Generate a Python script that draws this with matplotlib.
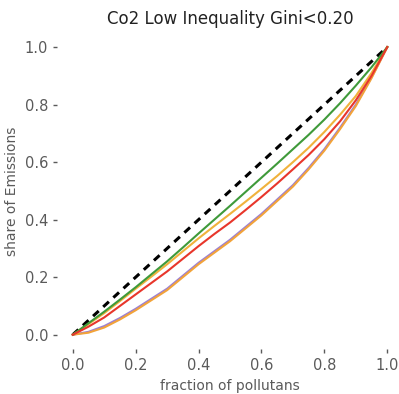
import numpy as np
import matplotlib
matplotlib.use("Agg")
import matplotlib.pyplot as plt

# fraction of pollutants (x) and cumulative share of emissions per curve
frac = [0.0, 0.05, 0.1, 0.15, 0.2, 0.25, 0.3, 0.35, 0.4, 0.45, 0.5,
        0.55, 0.6, 0.65, 0.7, 0.75, 0.8, 0.85, 0.9, 0.95, 1.0]
share_green = [0.0, 0.04, 0.08, 0.122, 0.165, 0.21, 0.255, 0.303, 0.352, 0.40, 0.448,
               0.497, 0.546, 0.595, 0.645, 0.695, 0.748, 0.805, 0.866, 0.93, 1.0]
share_yellow = [0.0, 0.037, 0.075, 0.117, 0.16, 0.202, 0.245, 0.29, 0.335, 0.378, 0.42,
                0.463, 0.507, 0.552, 0.60, 0.65, 0.705, 0.765, 0.83, 0.91, 1.0]
share_red = [0.0, 0.028, 0.06, 0.10, 0.14, 0.18, 0.22, 0.264, 0.308, 0.35, 0.39,
             0.434, 0.479, 0.526, 0.575, 0.625, 0.68, 0.742, 0.815, 0.90, 1.0]
share_purple = [0.0, 0.01, 0.03, 0.058, 0.09, 0.125, 0.16, 0.205, 0.25, 0.29, 0.33,
                0.375, 0.42, 0.47, 0.52, 0.58, 0.645, 0.72, 0.80, 0.895, 1.0]
share_orange = [0.0, 0.007, 0.025, 0.053, 0.085, 0.12, 0.155, 0.20, 0.245, 0.285, 0.325,
                0.37, 0.415, 0.465, 0.515, 0.575, 0.64, 0.715, 0.795, 0.892, 1.0]

fig = plt.figure(figsize=(3.99, 3.94), dpi=100)
ax = fig.add_axes([0.143, 0.114, 0.867, 0.803])

ax.plot([0, 1], [0, 1], color="black", ls="--", lw=2.2, dashes=(2.5, 2))
ax.plot(frac, share_purple, color="#9b7fd4", lw=1.5)
ax.plot(frac, share_orange, color="#f2a33a", lw=1.5)
ax.plot(frac, share_yellow, color="#f0b23c", lw=1.5)
ax.plot(frac, share_green, color="#3f9a3a", lw=1.5)
ax.plot(frac, share_red, color="#e8362b", lw=1.5)

for s in ax.spines.values():
    s.set_visible(False)
ax.set_xticks([0, 0.2, 0.4, 0.6, 0.8, 1.0])
ax.set_yticks([0, 0.2, 0.4, 0.6, 0.8, 1.0])
ax.tick_params(colors="#5a5a5a", labelsize=10.5, length=3, width=1)
ax.set_xlabel("fraction of pollutans", color="#5a5a5a", fontsize=10)
ax.set_ylabel("share of Emissions", color="#5a5a5a", fontsize=10)
ax.set_title("Co2 Low Inequality Gini<0.20", fontsize=12, color="#222222")

fig.savefig("out.png", dpi=100)
